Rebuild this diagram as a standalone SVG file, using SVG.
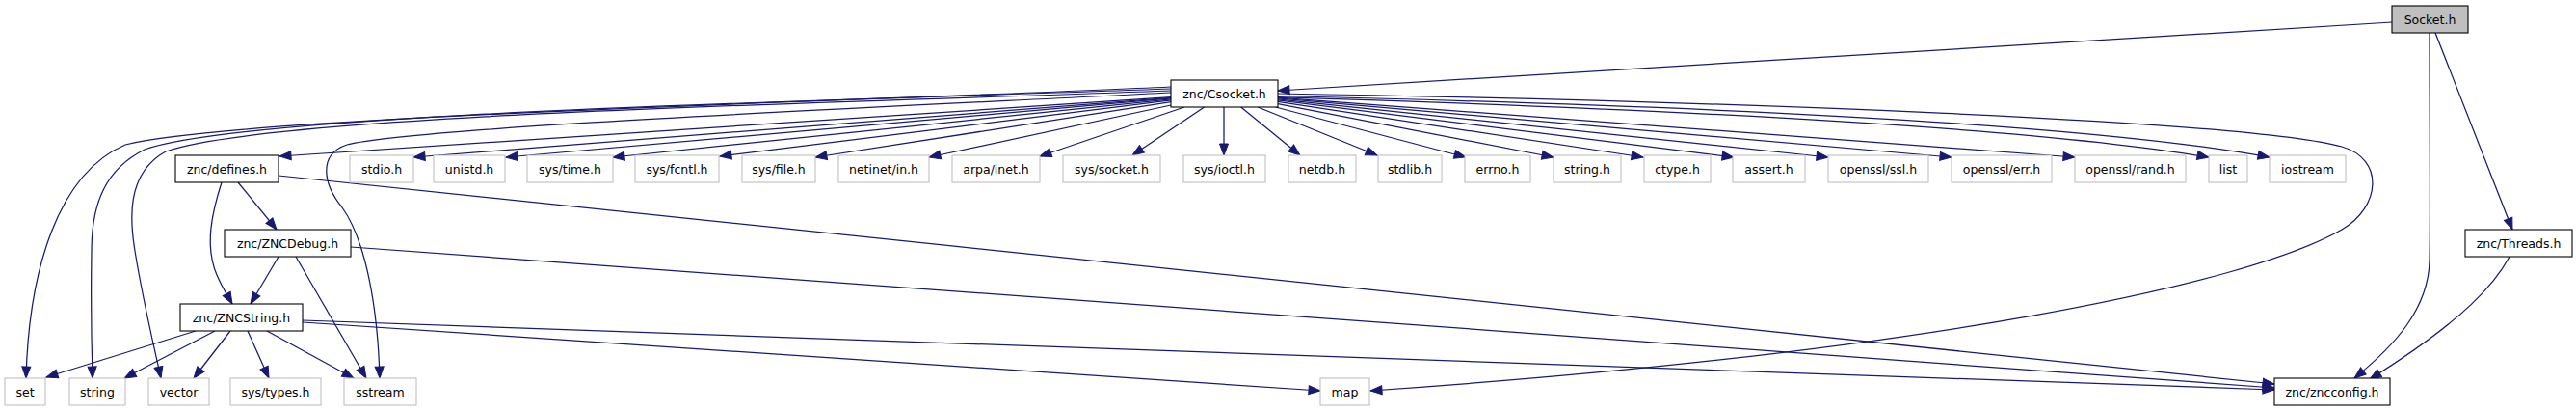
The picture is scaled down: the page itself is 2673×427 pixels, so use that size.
<svg xmlns="http://www.w3.org/2000/svg" width="2673" height="427" viewBox="0 0 2673 427">
<style>
rect{stroke-width:1.1}
.n rect{fill:#fff;stroke:#000}
.g rect{fill:#fff;stroke:#bfbfbf}
.r rect{fill:#bfbfbf;stroke:#000}
text{font-family:"DejaVu Sans",sans-serif;font-size:12.5px;text-anchor:middle;fill:#000}
#edges path{fill:none;stroke:#191970;stroke-width:1.25;marker-end:url(#a)}
</style>
<defs>
<marker id="a" markerUnits="userSpaceOnUse" markerWidth="14" markerHeight="11" refX="12" refY="4.5" orient="auto" overflow="visible">
<path d="M0,0 L12,4.5 L0,9 z" fill="#191970" stroke="#191970" stroke-width="1"/>
</marker>
</defs>
<rect width="2673" height="427" fill="#fff"/>
<g id="edges">
<path d="M2482,23 L1326,94"/>
<path d="M2521,34 C2521,120 2522,230 2521,270 C2520,320 2485,358 2443,392"/>
<path d="M2527,34 L2607,238"/>
<path d="M2604,266 C2590,292 2560,330 2459,393"/>
<path d="M1215,100.7 L290,162"/>
<path d="M1215,101.4 L429,163"/>
<path d="M1215,101.9 L525,163"/>
<path d="M1215,102.8 L636,163"/>
<path d="M1215,103.9 L747,162"/>
<path d="M1215,105.6 L846,163"/>
<path d="M1215,109 L964,163"/>
<path d="M1229,111 L1079,162"/>
<path d="M1249.6,111 L1175,161"/>
<path d="M1270,111 L1270,161"/>
<path d="M1287.7,111 L1349,161"/>
<path d="M1305.2,111 L1429,161"/>
<path d="M1323.6,111 L1521,163"/>
<path d="M1326,107.7 L1612,163"/>
<path d="M1326,105.4 L1705,163"/>
<path d="M1326,103.9 L1799,163"/>
<path d="M1326,102.8 L1897,163"/>
<path d="M1326,101.9 L2025,163"/>
<path d="M1326,101.2 L2153,163"/>
<path d="M1326,100.6 C1700,112 2100,130 2292,163"/>
<path d="M1326,99.5 C1700,108 2150,125 2355,163"/>
<path d="M1326,97 C1800,105 2330,125 2430,152 C2475,165 2470,215 2430,238 C2330,295 2000,365 1422,405"/>
<path d="M1215,90 C900,105 250,120 130,150 C60,180 30,280 27,392"/>
<path d="M1215,92 C900,104 260,116 150,155 C110,175 95,210 95,260 C94,320 95,360 96,392"/>
<path d="M1215,94 C900,106 280,118 172,157 C130,180 135,230 140,260 C148,310 160,360 167,392"/>
<path d="M1215,96 C900,112 430,132 360,150 C330,160 335,190 355,215 C380,250 392,320 394,392"/>
<path d="M230,189 C220,220 212,255 225,285 C230,297 236,306 241,315"/>
<path d="M247,189 L287,238"/>
<path d="M289,182 L2360,398"/>
<path d="M289,266 L260,315"/>
<path d="M307,266 L380,392"/>
<path d="M364,256 L2360,402"/>
<path d="M314,332 L2360,404"/>
<path d="M314,334 L1370,405"/>
<path d="M203,343 L48,391"/>
<path d="M223,343 L129,392"/>
<path d="M239,343 L201,392"/>
<path d="M257,343 L279,392"/>
<path d="M277,343 L367,392"/>
</g>
<g id="n_socket" class="r"><rect x="2482" y="6" width="79" height="28"/><text x="2521.5" y="24.5">Socket.h</text></g>
<g id="n_csocket" class="n"><rect x="1215" y="83" width="111" height="28"/><text x="1270.5" y="101.5">znc/Csocket.h</text></g>
<g id="n_defines" class="n"><rect x="182" y="161" width="107" height="28"/><text x="235.5" y="179.5">znc/defines.h</text></g>
<g id="n_stdio" class="g"><rect x="363" y="161" width="66" height="28"/><text x="396" y="179.5">stdio.h</text></g>
<g id="n_unistd" class="g"><rect x="450" y="161" width="74" height="28"/><text x="487" y="179.5">unistd.h</text></g>
<g id="n_systime" class="g"><rect x="547" y="161" width="89" height="28"/><text x="591.5" y="179.5">sys/time.h</text></g>
<g id="n_sysfcntl" class="g"><rect x="659" y="161" width="87" height="28"/><text x="702.5" y="179.5">sys/fcntl.h</text></g>
<g id="n_sysfile" class="g"><rect x="770" y="161" width="76" height="28"/><text x="808" y="179.5">sys/file.h</text></g>
<g id="n_netinet" class="g"><rect x="870" y="161" width="94" height="28"/><text x="917" y="179.5">netinet/in.h</text></g>
<g id="n_arpa" class="g"><rect x="988" y="161" width="91" height="28"/><text x="1033.5" y="179.5">arpa/inet.h</text></g>
<g id="n_syssocket" class="g"><rect x="1103" y="161" width="101" height="28"/><text x="1153.5" y="179.5">sys/socket.h</text></g>
<g id="n_sysioctl" class="g"><rect x="1228" y="161" width="85" height="28"/><text x="1270.5" y="179.5">sys/ioctl.h</text></g>
<g id="n_netdb" class="g"><rect x="1337" y="161" width="70" height="28"/><text x="1372" y="179.5">netdb.h</text></g>
<g id="n_stdlib" class="g"><rect x="1430" y="161" width="66" height="28"/><text x="1463" y="179.5">stdlib.h</text></g>
<g id="n_errno" class="g"><rect x="1520" y="161" width="68" height="28"/><text x="1554" y="179.5">errno.h</text></g>
<g id="n_stringh" class="g"><rect x="1612" y="161" width="70" height="28"/><text x="1647" y="179.5">string.h</text></g>
<g id="n_ctype" class="g"><rect x="1706" y="161" width="69" height="28"/><text x="1740.5" y="179.5">ctype.h</text></g>
<g id="n_assert" class="g"><rect x="1798" y="161" width="75" height="28"/><text x="1835.5" y="179.5">assert.h</text></g>
<g id="n_ssl" class="g"><rect x="1897" y="161" width="104" height="28"/><text x="1949" y="179.5">openssl/ssl.h</text></g>
<g id="n_err" class="g"><rect x="2025" y="161" width="104" height="28"/><text x="2077" y="179.5">openssl/err.h</text></g>
<g id="n_rand" class="g"><rect x="2153" y="161" width="115" height="28"/><text x="2210.5" y="179.5">openssl/rand.h</text></g>
<g id="n_list" class="g"><rect x="2292" y="161" width="40" height="28"/><text x="2312" y="179.5">list</text></g>
<g id="n_iostream" class="g"><rect x="2355" y="161" width="79" height="28"/><text x="2394.5" y="179.5">iostream</text></g>
<g id="n_zncdebug" class="n"><rect x="233" y="238" width="131" height="28"/><text x="298.5" y="256.5">znc/ZNCDebug.h</text></g>
<g id="n_threads" class="n"><rect x="2558" y="238" width="111" height="28"/><text x="2613.5" y="256.5">znc/Threads.h</text></g>
<g id="n_zncstring" class="n"><rect x="187" y="315" width="127" height="28"/><text x="250.5" y="333.5">znc/ZNCString.h</text></g>
<g id="n_set" class="g"><rect x="5" y="392" width="42" height="28"/><text x="26" y="410.5">set</text></g>
<g id="n_string" class="g"><rect x="72" y="392" width="58" height="28"/><text x="101" y="410.5">string</text></g>
<g id="n_vector" class="g"><rect x="154" y="392" width="63" height="28"/><text x="185.5" y="410.5">vector</text></g>
<g id="n_systypes" class="g"><rect x="239" y="392" width="94" height="28"/><text x="286" y="410.5">sys/types.h</text></g>
<g id="n_sstream" class="g"><rect x="357" y="392" width="75" height="28"/><text x="394.5" y="410.5">sstream</text></g>
<g id="n_map" class="g"><rect x="1370" y="392" width="51" height="28"/><text x="1395.5" y="410.5">map</text></g>
<g id="n_zncconfig" class="n"><rect x="2360" y="392" width="120" height="28"/><text x="2420" y="410.5">znc/zncconfig.h</text></g>
</svg>
